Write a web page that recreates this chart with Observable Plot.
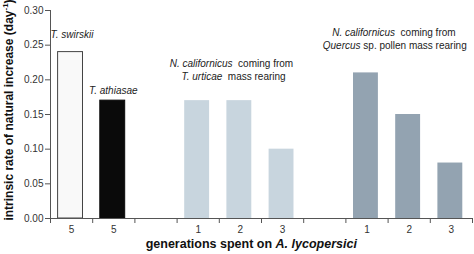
<!DOCTYPE html>
<html><head><meta charset="utf-8">
<script src="https://cdn.jsdelivr.net/npm/d3@7"></script>
<script src="https://cdn.jsdelivr.net/npm/@observablehq/plot@0.6"></script>
<style>body{margin:0;background:#fff}svg{font-family:"Liberation Sans",Arial,sans-serif}</style>
</head><body><div id="chart"></div>
<script>
// slots along x (empty labels = gaps between groups)
const slots = ["swirskii","athiasae","gap1","urt1","urt2","urt3","gap2","que1","que2","que3"];
const slotLabels = ["5","5","","1","2","3","","1","2","3"];
const barSlots = ["swirskii","athiasae","urt1","urt2","urt3","que1","que2","que3"];
const barValues = [0.24, 0.17, 0.17, 0.17, 0.10, 0.21, 0.15, 0.08];
const barGroups = ["swirskii","athiasae","urticae","urticae","urticae","quercus","quercus","quercus"];
const groupFill = {swirskii:"#f9f9f9", athiasae:"#0a0a0a", urticae:"#c8d5de", quercus:"#93a3b1"};
const groupStroke = {swirskii:"#444", athiasae:"#0a0a0a", urticae:"none", quercus:"none"};
const yTicks = [0, 0.05, 0.10, 0.15, 0.20, 0.25, 0.30];

const bars = barSlots.map((s, k) => ({i: slots.indexOf(s), value: barValues[k], group: barGroups[k]}));
const centers = slots.map((s, i) => i + 0.5).filter((c, i) => slotLabels[i] !== "");
const labelAt = Object.fromEntries(slots.map((s, i) => [i + 0.5, slotLabels[i]]));

const plot = Plot.plot({
  width: 474, height: 254,
  marginLeft: 50, marginRight: 2, marginTop: 10, marginBottom: 36,
  style: {fontFamily: "Liberation Sans, Arial, sans-serif", fontSize: "10px", color: "#333"},
  x: {domain: [0, slots.length]},
  y: {domain: [0, 0.30]},
  marks: [
    Plot.rectY(bars, {x1: d => d.i + 0.18, x2: d => d.i + 0.77, y: "value",
      fill: d => groupFill[d.group], stroke: d => groupStroke[d.group], strokeWidth: 1}),
    Plot.ruleY([0], {stroke: "#555"}),
    Plot.ruleX([0], {y1: 0, y2: 0.30, stroke: "#555"}),
    Plot.axisY({ticks: yTicks, tickFormat: d3.format(".2f"), tickSize: 5, tickPadding: 2, label: null, stroke: "#555"}),
    Plot.axisX({ticks: d3.range(slots.length + 1), tickFormat: () => "", tickSize: 5, label: null, stroke: "#555"}),
    Plot.axisX({ticks: centers, tickFormat: d => labelAt[d], tickSize: 0, tickPadding: 7, label: null})
  ]
});
document.getElementById("chart").appendChild(plot);

const sx = plot.scale("x"), sy = plot.scale("y");
const svg = d3.select(plot);
function mixed(parts, x, y, opts = {}) {
  const t = svg.append("text")
    .attr("x", x).attr("y", y)
    .attr("text-anchor", opts.anchor || "middle")
    .attr("dominant-baseline", "middle")
    .attr("font-size", opts.size || 10)
    .attr("font-weight", opts.weight || "normal")
    .attr("fill", opts.fill || "#222")
    .attr("font-family", "Liberation Sans, Arial, sans-serif");
  if (opts.rotate) t.attr("transform", `rotate(${opts.rotate},${x},${y})`);
  for (const [txt, it] of parts) {
    const s = t.append("tspan").text(txt);
    if (it) s.attr("font-style", "italic");
  }
  return t;
}
// annotations
mixed([["T. swirskii", true]], sx.apply(0.52), sy.apply(0.264));
mixed([["T. athiasae", true]], sx.apply(1.5), sy.apply(0.183));
mixed([["N. californicus", true], ["  coming from", false]], sx.apply(4.3), sy.apply(0.222));
mixed([["T. urticae", true], ["  mass rearing", false]], sx.apply(4.35), sy.apply(0.203));
mixed([["N. californicus", true], ["  coming from", false]], sx.apply(8.15), sy.apply(0.267));
mixed([["Quercus", true], [" sp. pollen mass rearing", false]], sx.apply(8.17), sy.apply(0.248));
// axis titles
mixed([["generations spent on ", false], ["A. lycopersici", true]], sx.apply(4.77), 245, {size: 12.5, weight: "bold", fill: "#111"});
const yl = mixed([["intrinsic rate of natural increase (day", false]], 10, 110, {size: 12, weight: "bold", fill: "#111", rotate: -90});
yl.append("tspan").text("-1").attr("dy", -4).attr("font-size", 8);
yl.append("tspan").text(")").attr("dy", 4);
</script></body></html>
